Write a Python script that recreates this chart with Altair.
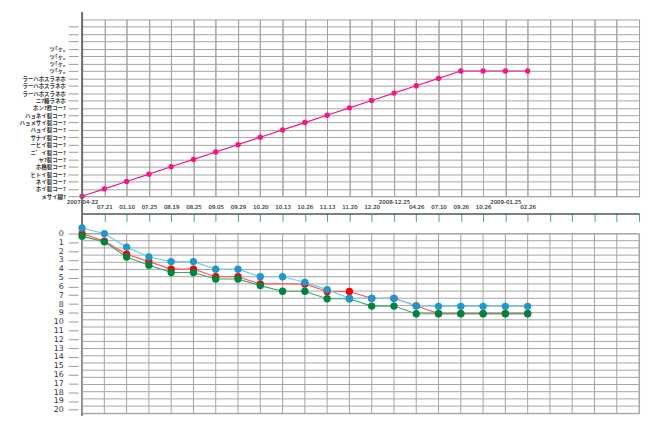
import json
import altair as alt
import pandas as pd

# ---------------- data ----------------
date_labels = ["2007-04-22", "07.21", "01.10", "07.25", "08.19", "08.25", "09.05",
               "09.29", "10.20", "10.13", "10.26", "11.13", "11.20", "12.20",
               "2008-12.25", "04.26", "07.10", "09.26", "10.26", "2009-01.25", "02.26"]

stage_labels = ["メサイ糊?", "ホイ裂コー?", "ネイ裂コー?", "ヒトイ裂コー?", "ホ橋裂コー?",
                "ヤ?裂コー?", "ニ゛イ裂コー?", "ーヒイ裂コー?", "サナイ裂コー?",
                "ハョイ裂コー?", "ハョメサイ裂コー?", "ハョネイ裂コー?", "ホン?甦コー?",
                "ニ?糖ラネホ", "ラーハホスラネホ", "ラーハホスラネホ", "ラーハホスラネホ",
                "ツ｢ヶ｡", "ツ｢ヶ｡", "ツ｢ヶ｡", "ツ｢ヶ｡"]

stage_index = [0, 1, 2, 3, 4, 5, 6, 7, 8, 9, 10, 11, 12, 13, 14, 15, 16, 17, 17, 17, 17]

red_values = [0.0, 0.86, 2.35, 3.18, 4.04, 4.04, 4.9, 4.9, 5.72, None, 5.72,
              6.58, 6.58, 7.35, 7.35, 8.2, 9.08, 9.08, 9.08, 9.08, 9.08]
green_values = [0.3, 0.94, 2.66, 3.59, 4.42, 4.42, 5.16, 5.16, 5.91, 6.55, 6.55,
                7.4, 7.4, 8.23, 8.23, 9.1, 9.1, 9.1, 9.1, 9.1, 9.1]
cyan_values = [-0.63, 0.0, 1.54, 2.66, 3.18, 3.18, 4.04, 4.04, 4.9, 4.9, 5.54,
               6.36, 7.35, 7.35, 7.35, 8.2, 8.26, 8.26, 8.26, 8.26, 8.26]

bottom_ticks = list(range(21))
grid_cols = list(range(26))
grid_rows_top = list(range(24))
grid_rows_bottom = list(range(26))

# ---------------- styling ----------------
GRID = "#a4a4a4"
AXIS_DARK = "#6e6e6e"
MAGENTA = "#f5168a"
series = [
    ("red", red_values, "#ff5a5a", "#ff0000"),
    ("green", green_values, "#3fa86a", "#00843c"),
    ("cyan", cyan_values, "#74cfe6", "#1e98cc"),
]


def js_array(items):
    return "[" + ",".join(json.dumps(s, ensure_ascii=False) for s in items) + "]"


steps = list(range(len(date_labels)))
year_steps = [i for i, d in enumerate(date_labels) if "-" in d]
year_test = f"indexof({json.dumps(year_steps)}, datum.value) >= 0"

x_scale = alt.Scale(domain=[0, 25], nice=False, zero=False)
y_top_scale = alt.Scale(domain=[0, 24], nice=False, zero=False)
y_bot_scale = alt.Scale(domain=[0, 20.4], reverse=True, nice=False, zero=False)
y_grid_scale = alt.Scale(domain=[0, 25], reverse=True, nice=False, zero=False)

# ---------------- top panel ----------------
top_df = pd.DataFrame({"step": steps, "stage": stage_index})

top_x_axis = alt.Axis(
    orient="bottom", values=grid_cols, grid=True, gridColor=GRID, gridWidth=1,
    ticks=False, domain=False, title=None,
    labelExpr=f"{js_array(date_labels)}[datum.value] || ''",
    labelFontSize=5.5, labelColor="#555", labelFont="DejaVu Sans",
    labelBaseline="top", labelFlush=False, labelOverlap=False,
    labelPadding={"condition": {"test": year_test, "value": 3}, "value": 8},
)
top_y_axis = alt.Axis(
    orient="left", values=grid_rows_top, grid=True, gridColor=GRID, gridWidth=1,
    ticks=True, tickSize=10, tickColor="#9a9a9a", offset=4, domain=False,
    title=None, labelExpr=f"{js_array(stage_labels)}[datum.value] || ''",
    labelFont="Noto Sans CJK JP", labelFontSize=5.5, labelFontWeight="bold",
    labelColor="#333", labelPadding=3, labelOverlap=False,
)

top_base = alt.Chart(top_df).encode(
    x=alt.X("step:Q", scale=x_scale, axis=top_x_axis),
    y=alt.Y("stage:Q", scale=y_top_scale, axis=top_y_axis),
)
top_line = top_base.mark_line(color=MAGENTA, strokeWidth=1.2)
top_pts = top_base.mark_circle(color=MAGENTA, size=30, opacity=1)

separator = alt.Chart(pd.DataFrame({"anchor": [0]})).mark_rule(
    color=AXIS_DARK, strokeWidth=2
).encode(
    x=alt.XDatum(0, type="quantitative", scale=x_scale, axis=alt.Axis(
        orient="bottom", offset=17.5, values=grid_cols[1:], domain=True,
        domainColor="#555555", domainWidth=1.5, ticks=True, tickColor="#3fae6a",
        tickSize=8, tickWidth=1, labels=False, grid=False, title=None)),
    y=alt.YDatum(25, type="quantitative", scale=y_top_scale, axis=top_y_axis),
    y2=alt.Y2Datum(-29.8),
)

top = alt.layer(top_line, top_pts, separator).resolve_axis(x="independent").properties(
    width=564, height=179
)

# ---------------- bottom panel ----------------
hgrid = alt.Chart(pd.DataFrame({"row": grid_rows_bottom})).mark_rule(
    color=GRID, strokeWidth=1
).encode(y=alt.Y("row:Q", scale=y_grid_scale, axis=None))

vgrid = alt.Chart(pd.DataFrame({"col": grid_cols})).mark_rule(
    color=GRID, strokeWidth=1
).encode(x=alt.X("col:Q", scale=x_scale, axis=None))

bottom_y_axis = alt.Axis(
    orient="left", values=bottom_ticks, grid=False, ticks=True, tickSize=10,
    tickColor="#9a9a9a", offset=4, domain=False, title=None,
    labelFontSize=8, labelColor="#333", labelFont="DejaVu Sans", labelPadding=5,
    labelOverlap=False,
)

line_layers = []
point_layers = []
for name, vals, line_col, pt_col in series:
    df = pd.DataFrame({"step": steps, "value": vals}).dropna()
    enc = dict(
        x=alt.X("step:Q", scale=x_scale, axis=None),
        y=alt.Y("value:Q", scale=y_bot_scale, axis=bottom_y_axis),
    )
    line_layers.append(alt.Chart(df).mark_line(color=line_col, strokeWidth=1.2).encode(**enc))
    point_layers.append(alt.Chart(df).mark_circle(color=pt_col, size=55, opacity=1).encode(**enc))

data_layer = alt.layer(vgrid, *line_layers, *point_layers)

bottom = alt.layer(hgrid, data_layer).resolve_scale(y="independent").properties(
    width=564, height=182
)

chart = alt.vconcat(top, bottom, spacing=37.8, bounds="flush").properties(
    padding={"left": 10, "top": 0, "right": 2, "bottom": 0},
    background="white",
).configure_view(stroke=GRID, strokeWidth=1)

chart.save("out.html", embed_options={"renderer": "svg", "actions": False})
